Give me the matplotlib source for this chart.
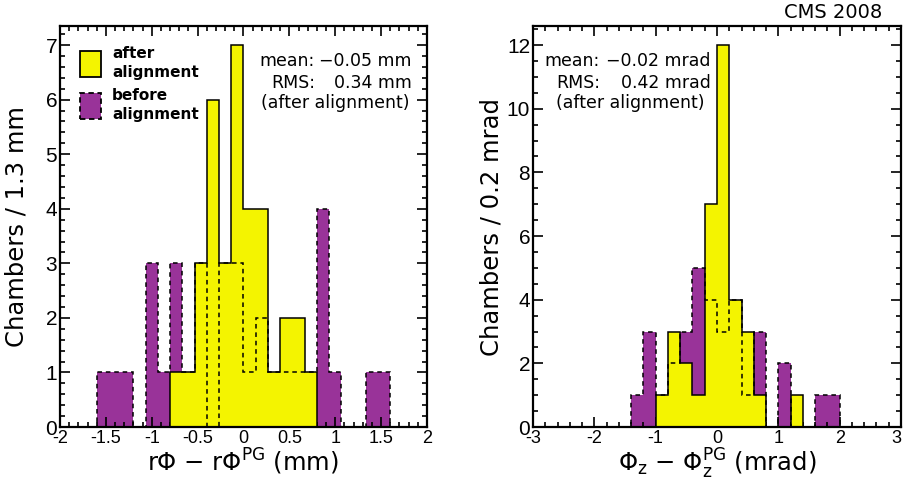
import numpy as np
import matplotlib
matplotlib.use("Agg")
import matplotlib.pyplot as plt
import matplotlib.ticker as mticker
import matplotlib.font_manager as fm
from matplotlib.patches import Rectangle

# --- data (counts per bin, 30 bins each) ---
rphi_edges = np.linspace(-2.0, 2.0, 31)
rphi_after = [0, 0, 0, 0, 0, 0, 0, 0, 0, 1, 1, 3, 6, 3, 7, 4, 4, 1, 2, 2, 1, 0, 0, 0, 0, 0, 0, 0, 0, 0]
rphi_before = [0, 0, 0, 1, 1, 1, 0, 3, 1, 3, 1, 3, 0, 3, 3, 1, 2, 1, 1, 1, 1, 4, 1, 0, 0, 1, 1, 0, 0, 0]

phiz_edges = np.linspace(-3.0, 3.0, 31)
phiz_after = [0, 0, 0, 0, 0, 0, 0, 0, 0, 0, 1, 3, 2, 1, 7, 12, 4, 3, 1, 0, 0, 1, 0, 0, 0, 0, 0, 0, 0, 0]
phiz_before = [0, 0, 0, 0, 0, 0, 0, 0, 1, 3, 1, 2, 3, 5, 4, 3, 4, 1, 3, 0, 2, 0, 0, 1, 1, 0, 0, 0, 0, 0]

stats_rphi = ["\u22120.05 mm", "0.34 mm"]
stats_phiz = ["\u22120.02 mrad", "0.42 mrad"]

YELLOW = "#f4f400"
PURPLE = "#993399"

W, H = 904, 490
names = {f.name for f in fm.fontManager.ttflist}
ARIAL = "Liberation Sans" if "Liberation Sans" in names else "DejaVu Sans"

fig = plt.figure(figsize=(W / 100, H / 100), dpi=100)


def px(x, y):
    return x / W, 1 - y / H


def draw_panel(rect, edges, after, before, xmaj, xmin, ymaj, ymin):
    ax = fig.add_axes([rect[0] / W, 1 - rect[3] / H, (rect[2] - rect[0]) / W, (rect[3] - rect[1]) / H])
    ax.stairs(before, edges, fill=True, color=PURPLE, lw=0, zorder=1)
    ax.stairs(after, edges, fill=True, color=YELLOW, lw=0, zorder=2)
    ax.stairs(after, edges, color="k", lw=1.1, zorder=3)
    ax.stairs(before, edges, color="k", lw=1.1, ls=(0, (3, 2.5)), zorder=4)
    ax.set_xlim(edges[0], edges[-1])
    ax.set_ylim(0, 1.05 * max(max(after), max(before)))
    ax.xaxis.set_major_locator(mticker.MultipleLocator(xmaj))
    ax.xaxis.set_minor_locator(mticker.MultipleLocator(xmin))
    ax.yaxis.set_major_locator(mticker.MultipleLocator(ymaj))
    ax.yaxis.set_minor_locator(mticker.MultipleLocator(ymin))
    fmt = mticker.FuncFormatter(lambda v, _: f"{v:g}")
    ax.xaxis.set_major_formatter(fmt)
    ax.yaxis.set_major_formatter(fmt)
    ax.tick_params(which="both", direction="in", top=True, right=True, width=1.2)
    ax.tick_params(which="major", length=7.5)
    ax.tick_params(which="minor", length=3.8)
    ax.tick_params(axis="x", pad=2, labelsize=13, labelfontfamily=ARIAL)
    ax.tick_params(axis="y", pad=2, labelsize=15, labelfontfamily=ARIAL)
    for s in ax.spines.values():
        s.set_linewidth(1.6)
        s.set_zorder(5)
    return ax


ax1 = draw_panel((60, 26, 427, 427), rphi_edges, rphi_after, rphi_before, 0.5, 0.1, 1, 0.2)
ax2 = draw_panel((533, 26, 901, 427), phiz_edges, phiz_after, phiz_before, 1, 0.2, 2, 0.5)

ax1.set_ylabel("Chambers / 1.3 mm", fontsize=17.5)
ax1.yaxis.set_label_coords(-0.085, 0.5)
ax2.set_ylabel("Chambers / 0.2 mrad", fontsize=17.5)
ax2.yaxis.set_label_coords(-0.08, 0.5)

ax1.set_xlabel(r"r$\Phi$ $-$ r$\Phi^{\mathrm{PG}}$ (mm)", fontsize=17.5)
ax1.xaxis.set_label_coords(0.5, -0.05)
ax2.set_xlabel(r"$\Phi_{\mathrm{z}}$ $-$ $\Phi_{\mathrm{z}}^{\mathrm{PG}}$ (mrad)", fontsize=17.5)
ax2.xaxis.set_label_coords(0.5, -0.05)

# legend drawn by hand, ROOT style
fig.patches.append(Rectangle(px(80, 77), 21 / W, 26 / H, transform=fig.transFigure,
                             facecolor=YELLOW, edgecolor="k", lw=1.3))
fig.patches.append(Rectangle(px(80, 119), 21 / W, 26 / H, transform=fig.transFigure,
                             facecolor=PURPLE, edgecolor="k", lw=1.3, ls=(0, (3, 2))))
for txt, yb in [("after", 58), ("alignment", 76.5), ("before", 100.5), ("alignment", 119)]:
    fig.text(*px(112, yb), txt, fontsize=11, fontweight="bold", va="baseline", ha="left")

# statistics boxes
def stats(xlab, xval, xmid, vals):
    fig.text(*px(xlab, 66), "mean:", fontsize=12.5, ha="right", va="baseline")
    fig.text(*px(xval, 66), vals[0], fontsize=12.5, ha="right", va="baseline")
    fig.text(*px(xlab, 87.5), "RMS:", fontsize=12.5, ha="right", va="baseline")
    fig.text(*px(xval, 87.5), vals[1], fontsize=12.5, ha="right", va="baseline")
    fig.text(*px(xmid, 107.5), "(after alignment)", fontsize=12.5, ha="center", va="baseline")


stats(315, 412, 335, stats_rphi)
stats(600, 711, 630, stats_phiz)

fig.text(*px(882, 18), "CMS 2008", fontsize=14, ha="right", va="baseline")

# keep the last tick label of the right panel inside the figure
fig.canvas.draw()
for lab in ax2.get_xticklabels():
    if lab.get_text() == "3":
        lab.set_horizontalalignment("right")

fig.savefig("out.png", dpi=100)
